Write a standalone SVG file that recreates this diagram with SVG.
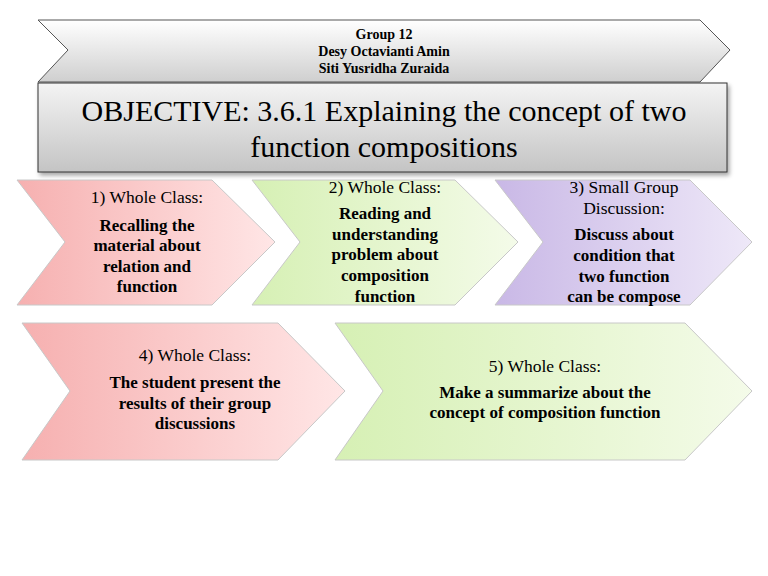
<svg xmlns="http://www.w3.org/2000/svg" width="768" height="576" viewBox="0 0 768 576">
<defs>
<linearGradient id="gray" x1="0" y1="0" x2="0" y2="1"><stop offset="0" stop-color="#ffffff"/><stop offset="1" stop-color="#cfcfcf"/></linearGradient>
<linearGradient id="gray2" x1="0" y1="0" x2="0" y2="1"><stop offset="0" stop-color="#f4f4f4"/><stop offset="1" stop-color="#c4c4c4"/></linearGradient>
<linearGradient id="pink" x1="0" y1="0" x2="1" y2="0"><stop offset="0" stop-color="#f6b0b0"/><stop offset="1" stop-color="#ffe6e6"/></linearGradient>
<linearGradient id="green" x1="0" y1="0" x2="1" y2="0"><stop offset="0" stop-color="#d6f0b4"/><stop offset="1" stop-color="#f4fbe9"/></linearGradient>
<linearGradient id="purple" x1="0" y1="0" x2="1" y2="0"><stop offset="0" stop-color="#c9b8e6"/><stop offset="1" stop-color="#eee8f8"/></linearGradient>
<filter id="sh" x="-5%" y="-5%" width="115%" height="125%"><feDropShadow dx="2" dy="3" stdDeviation="2" flood-opacity="0.35"/></filter>
</defs>
<style>
.s{stroke:#c8c8c8;stroke-width:1}
text{font-family:"Liberation Serif","Times New Roman",serif;fill:#000;text-anchor:middle}
.h{font-size:17.5px}
.b{font-size:17px;font-weight:bold}
.g{font-size:14px;font-weight:bold}
</style>
<rect width="768" height="576" fill="#fff"/>
<g id="header">
<polygon points="38,20 700,20 730,50 700,82 38,82 68,50" fill="url(#gray)" stroke="#555" stroke-width="1"/>
<text class="g" x="384" y="39">Group 12</text>
<text class="g" x="384" y="56">Desy Octavianti Amin</text>
<text class="g" x="384" y="73">Siti Yusridha Zuraida</text>
</g>
<g id="objective">
<rect x="38" y="83" width="689" height="89" fill="url(#gray2)" stroke="#333" stroke-width="1" filter="url(#sh)"/>
<text x="384" y="121" font-size="30">OBJECTIVE: 3.6.1 Explaining the concept of two</text>
<text x="384" y="157" font-size="30">function compositions</text>
</g>
<g id="step1">
<polygon class="s" points="17,180 212,180 275,242 212,305 17,305 65,242" fill="url(#pink)"/>
<text class="h" x="147" y="203">1) Whole Class:</text>
<text class="b" x="147" y="231">Recalling the</text>
<text class="b" x="147" y="251">material about</text>
<text class="b" x="147" y="272">relation and</text>
<text class="b" x="147" y="292">function</text>
</g>
<g id="step2">
<polygon class="s" points="252,180 455,180 518,242 455,305 252,305 300,242" fill="url(#green)"/>
<text class="h" x="385" y="193">2) Whole Class:</text>
<text class="b" x="385" y="219">Reading and</text>
<text class="b" x="385" y="240">understanding</text>
<text class="b" x="385" y="260">problem about</text>
<text class="b" x="385" y="281">composition</text>
<text class="b" x="385" y="302">function</text>
</g>
<g id="step3">
<polygon class="s" points="495,180 690,180 752,242 690,305 495,305 543,242" fill="url(#purple)"/>
<text class="h" x="624" y="193">3) Small Group</text>
<text class="h" x="624" y="214">Discussion:</text>
<text class="b" x="624" y="240">Discuss about</text>
<text class="b" x="624" y="261">condition that</text>
<text class="b" x="624" y="282">two function</text>
<text class="b" x="624" y="302">can be compose</text>
</g>
<g id="step4">
<polygon class="s" points="22,323 278,323 345,391 278,460 22,460 70,391" fill="url(#pink)"/>
<text class="h" x="195" y="361">4) Whole Class:</text>
<text class="b" x="195" y="388">The student present the</text>
<text class="b" x="195" y="409">results of their group</text>
<text class="b" x="195" y="429">discussions</text>
</g>
<g id="step5">
<polygon class="s" points="335,323 685,323 752,391 685,460 335,460 383,391" fill="url(#green)"/>
<text class="h" x="545" y="372">5) Whole Class:</text>
<text class="b" x="545" y="398">Make a summarize about the</text>
<text class="b" x="545" y="418">concept of composition function</text>
</g>
<g id="connectors"></g>
</svg>
